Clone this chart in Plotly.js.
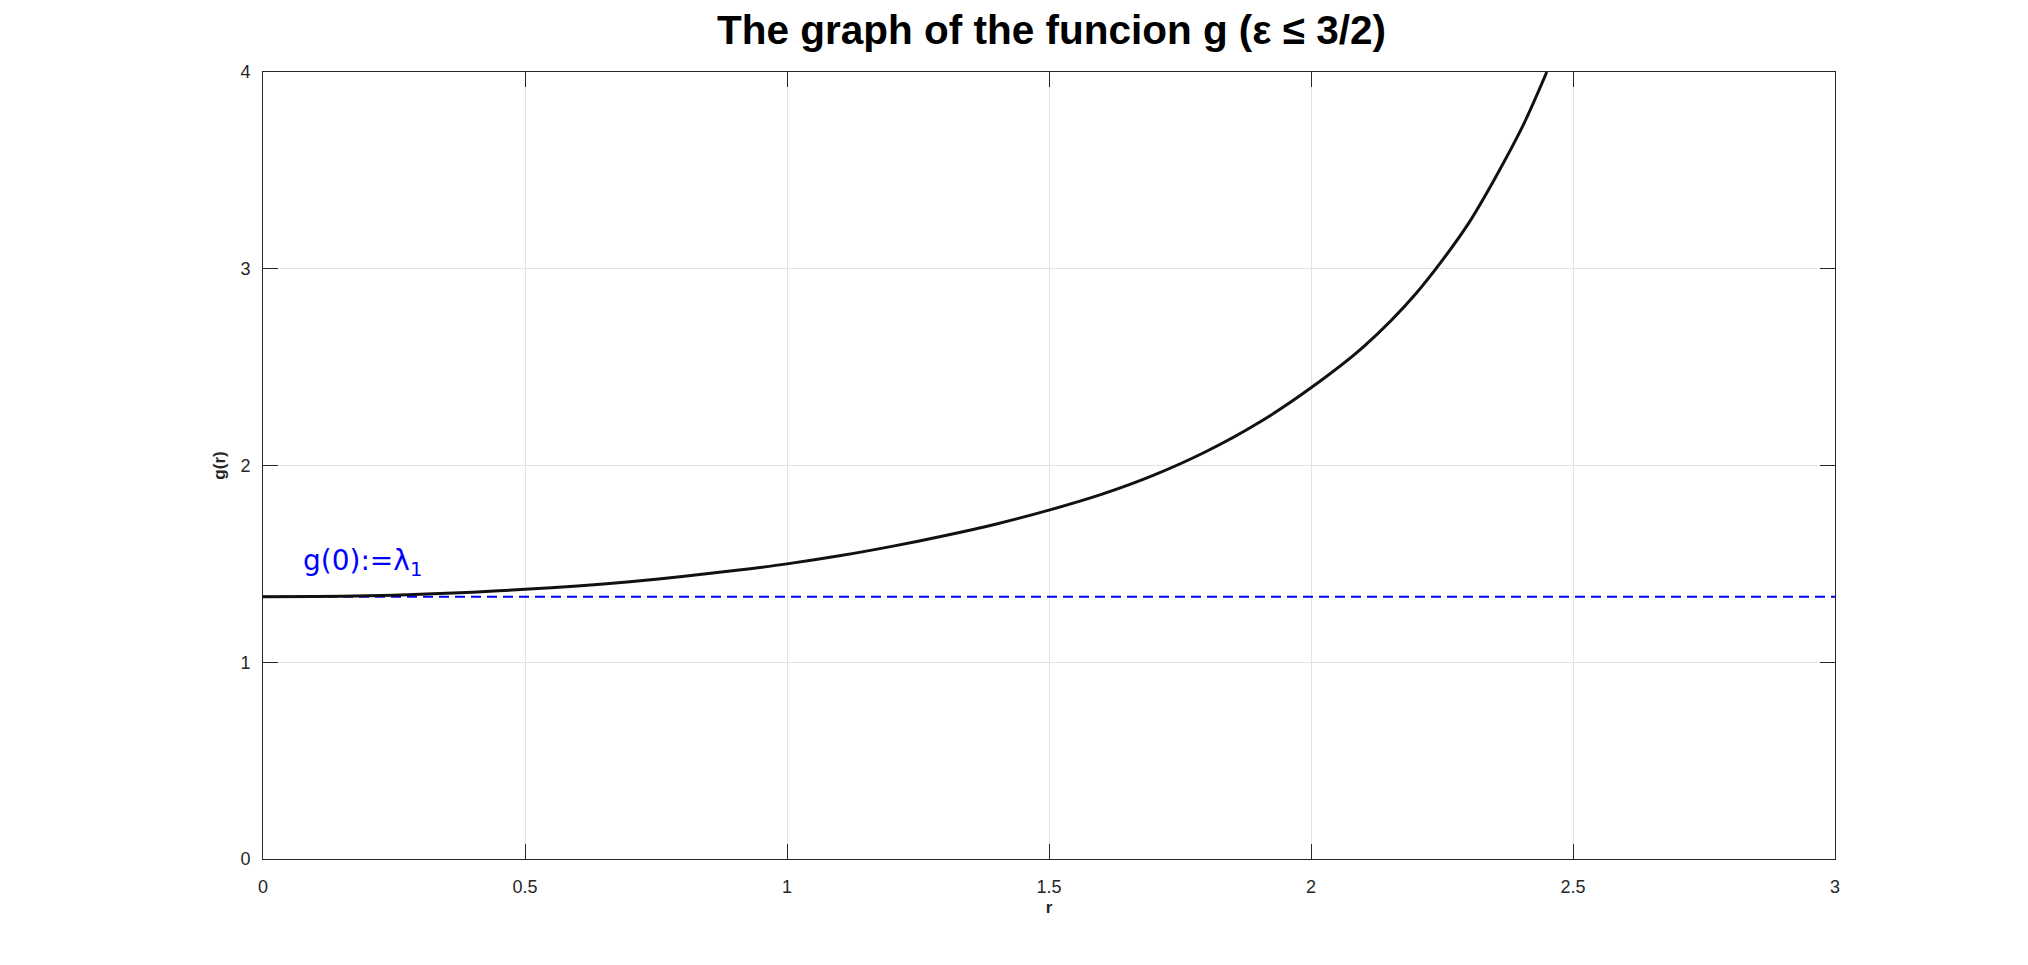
<!DOCTYPE html>
<html>
<head>
<meta charset="utf-8">
<script src="https://cdn.plot.ly/plotly-3.0.1.min.js"></script>
<style>
  html, body { margin: 0; padding: 0; background: #fff; }
  #plotlyChart { width: 2028px; height: 965px; }
</style>
</head>
<body>
<div id="plotlyChart"></div>
<script>
// values
const rValues = [0, 0.1, 0.2, 0.3, 0.4, 0.5, 0.6, 0.7, 0.8, 0.9, 1.0, 1.1, 1.2, 1.3, 1.4, 1.5,
  1.6, 1.7, 1.8, 1.9, 2.0, 2.1, 2.2, 2.3, 2.4, 2.45];
const gValues = [1.333, 1.334, 1.338, 1.345, 1.356, 1.371, 1.388, 1.409, 1.436, 1.466, 1.50, 1.541, 1.589, 1.643, 1.703, 1.773,
  1.853, 1.951, 2.071, 2.217, 2.395, 2.603, 2.873, 3.228, 3.703, 4.0];
const lambda1 = 4 / 3;
const rRange = [0, 3];
const gRange = [0, 4];
const xTicks = [0, 0.5, 1, 1.5, 2, 2.5, 3];
const xTickText = ['0', '0.5', '1', '1.5', '2', '2.5', '3'];
const yTicks = [0, 1, 2, 3, 4];

const traces = [
  {
    x: [rRange[0], rRange[1]],
    y: [lambda1, lambda1],
    mode: 'lines',
    line: { color: '#0000ff', width: 2, dash: '10px,6px' },
    hoverinfo: 'skip'
  },
  {
    x: rValues,
    y: gValues,
    mode: 'lines',
    line: { color: '#111111', width: 3, shape: 'spline', smoothing: 0.8 },
    hoverinfo: 'skip'
  }
];

const axisFont = { family: 'Liberation Sans, Arial, sans-serif', size: 18, color: '#262626' };
const labelFont = { family: 'Liberation Sans, Arial, sans-serif', size: 17, color: '#262626', weight: 'bold' };

const layout = {
  width: 2028,
  height: 965,
  paper_bgcolor: '#ffffff',
  plot_bgcolor: '#ffffff',
  showlegend: false,
  margin: { t: 72, r: 193, b: 106, l: 263 },
  title: {
    text: 'The graph of the funcion g (ε ≤ 3/2)',
    font: { family: 'Liberation Sans, Arial, sans-serif', size: 40.5, color: '#000000', weight: 'bold' },
    x: 0.5185, xanchor: 'center',
    y: 0.969, yanchor: 'middle', yref: 'container'
  },
  xaxis: {
    range: rRange,
    tickvals: xTicks,
    ticktext: xTickText,
    ticks: 'inside',
    ticklen: 15,
    tickcolor: '#262626',
    ticklabelstandoff: 11,
    showline: true,
    linecolor: '#262626',
    linewidth: 1,
    mirror: 'ticks',
    showgrid: true,
    gridcolor: '#e3e3e3',
    zeroline: false,
    tickfont: axisFont,
    title: { text: 'r', font: labelFont, standoff: 5 }
  },
  yaxis: {
    range: gRange,
    tickvals: yTicks,
    ticks: 'inside',
    ticklen: 15,
    tickcolor: '#262626',
    ticklabelstandoff: 8,
    showline: true,
    linecolor: '#262626',
    linewidth: 1,
    mirror: 'ticks',
    showgrid: true,
    gridcolor: '#e3e3e3',
    zeroline: false,
    tickfont: axisFont,
    title: { text: 'g(r)', font: labelFont, standoff: 10 }
  },
  annotations: [
    {
      x: 0.072, y: 1.505, xref: 'x', yref: 'y',
      xanchor: 'left', yanchor: 'middle',
      text: 'g(0):=λ<sub>1</sub>',
      showarrow: false,
      font: { family: 'DejaVu Sans, sans-serif', size: 28, color: '#0000ff' }
    }
  ]
};

Plotly.newPlot('plotlyChart', traces, layout, { displayModeBar: false, staticPlot: true });
</script>
</body>
</html>
